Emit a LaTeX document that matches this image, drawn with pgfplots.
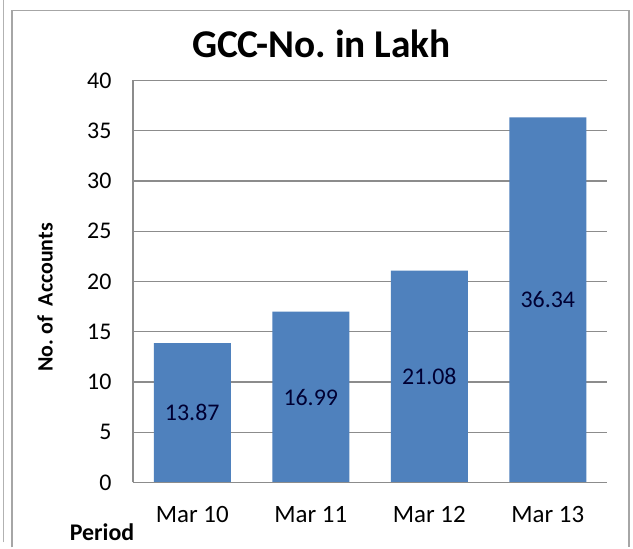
\documentclass[border=0pt]{standalone}
\usepackage{pgfplots}
\pgfplotsset{compat=1.18}
\usepackage{fontspec}
\setmainfont{Carlito}
\frenchspacing
\definecolor{barblue}{HTML}{4F81BD}
\definecolor{gridgray}{HTML}{8C8C8C}
\begin{document}
\begin{tikzpicture}[x=1bp,y=1bp]
\fill[white] (0,0) rectangle (633,542);
\draw[gray!70, line width=1.5bp] (12,-5) -- (12,532) -- (629,532) -- (629,-5);
\draw[gray!60, line width=1bp] (3,0) -- (3,542);
\begin{axis}[
  at={(133bp,60bp)}, anchor=south west,
  scale only axis,
  width=474bp, height=402bp,
  xmin=-0.5, xmax=3.5,
  ymin=0, ymax=40,
  ytick={0,5,...,40},
  xtick={0,1,2,3},
  xticklabels={Mar 10,Mar 11,Mar 12,Mar 13},
  axis line style={draw=none},
  ymajorgrids,
  grid style={gridgray, line width=1.2bp},
  major tick length=0pt,
  tick style={draw=none},
  /pgf/number format/assume math mode=true,
  yticklabel style={font=\fontsize{24}{26}\selectfont, xshift=-18bp},
  xticklabel style={font=\fontsize{25}{27}\selectfont, yshift=-20bp},
  clip=false,
]
\addplot[ybar, bar width=77bp, fill=barblue, draw=none] coordinates {(0,13.87) (1,16.99) (2,21.08) (3,36.34)};
\addplot[only marks, mark=none, nodes near coords, point meta=explicit symbolic,
  nodes near coords style={font=\fontsize{24}{26}\selectfont, color=black!80!blue, anchor=center}]
  coordinates {(0,6.935)[13.87] (1,8.495)[16.99] (2,10.54)[21.08] (3,18.17)[36.34]};
\draw[gridgray, line width=1.2bp] (axis cs:-0.5,0) -- (axis cs:-0.5,40);
\draw[gridgray, line width=1.2bp] (axis cs:-0.5,0) -- (axis cs:3.5,0);
\end{axis}
\node[font=\bfseries\fontsize{39.5}{41}\selectfont, anchor=base] at (321.5,485) {GCC-No. in Lakh};
\node[font=\bfseries\fontsize{22}{24}\selectfont, rotate=90] at (45,245) {No. of\ \ Accounts};
\node[font=\bfseries\fontsize{24}{26}\selectfont, anchor=base] at (102,2) {Period};
\end{tikzpicture}
\end{document}
